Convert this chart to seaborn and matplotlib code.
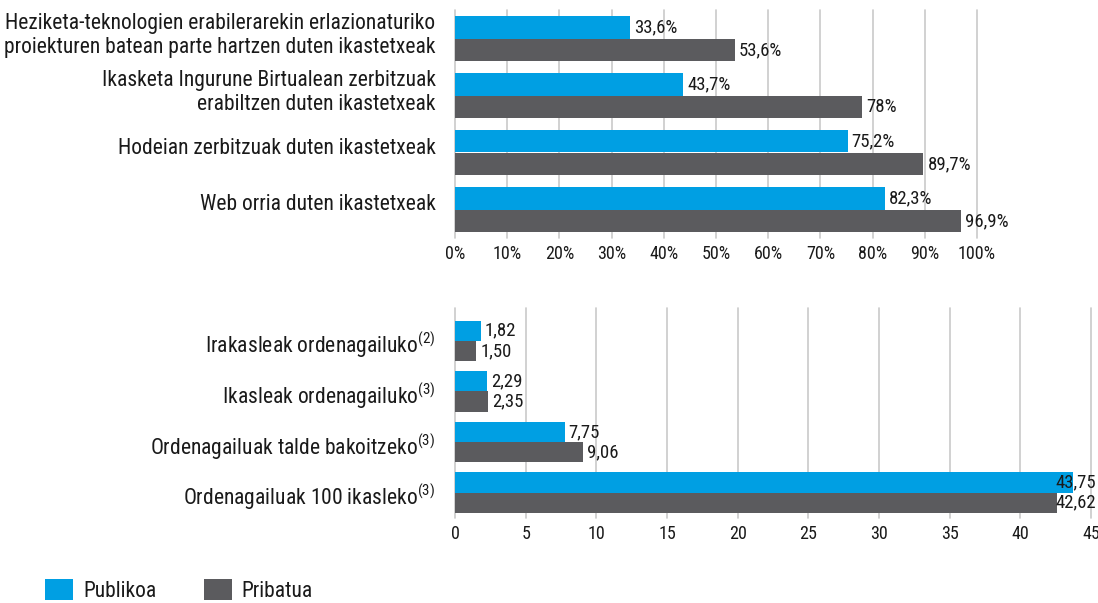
import pandas as pd
import matplotlib
matplotlib.use('Agg')
import matplotlib.pyplot as plt
import matplotlib.transforms as mtransforms
import seaborn as sns

# --- data ---
top_categories = [
    'Heziketa-teknologien erabilerarekin erlazionaturiko\nproiekturen batean parte hartzen duten ikastetxeak',
    'Ikasketa Ingurune Birtualean zerbitzuak\nerabiltzen duten ikastetxeak',
    'Hodeian zerbitzuak duten ikastetxeak',
    'Web orria duten ikastetxeak',
]
top_publikoa = [33.6, 43.7, 75.2, 82.3]
top_pribatua = [53.6, 78.0, 89.7, 96.9]
top_ticks = [0, 10, 20, 30, 40, 50, 60, 70, 80, 90, 100]

bottom_categories = [
    'Irakasleak ordenagailuko$^{(2)}$',
    'Ikasleak ordenagailuko$^{(3)}$',
    'Ordenagailuak talde bakoitzeko$^{(3)}$',
    'Ordenagailuak 100 ikasleko$^{(3)}$',
]
bottom_publikoa = [1.82, 2.29, 7.75, 43.75]
bottom_pribatua = [1.50, 2.35, 9.06, 42.62]
bottom_ticks = [0, 5, 10, 15, 20, 25, 30, 35, 40, 45]

series_names = ['Publikoa', 'Pribatua']
colors = ['#009fe3', '#5b5b5e']

# --- style ---
sns.set_theme(style='white')
FONT = 'Roboto Condensed'
plt.rcParams['font.family'] = [FONT, 'DejaVu Sans']
plt.rcParams['mathtext.fontset'] = 'custom'
plt.rcParams['mathtext.rm'] = FONT
plt.rcParams['mathtext.it'] = FONT
plt.rcParams['mathtext.bf'] = FONT
text_color = '#1a1a1a'
grid_color = '#c9c9c9'

W, H = 1098, 603
fig = plt.figure(figsize=(W / 100, H / 100), dpi=100)


def long_frame(categories, pub, pri):
    return pd.DataFrame({
        'category': categories * 2,
        'value': pub + pri,
        'series': [series_names[0]] * len(pub) + [series_names[1]] * len(pri),
    })


def draw_panel(ax, df, categories, ticks, xlim, ylim, tick_fmt, label_fmt, label_shift=0):
    sns.barplot(data=df, y='category', x='value', hue='series', order=categories,
                hue_order=series_names, palette=colors, orient='h', width=0.8,
                saturation=1, ax=ax, legend=True, linewidth=0)
    texts = []
    for cont in ax.containers:
        vals = [b.get_width() for b in cont]
        texts += ax.bar_label(cont, labels=[label_fmt(v) for v in vals], padding=3,
                              fontsize=13.5, color=text_color)
    ax.set_xlim(*xlim)
    ax.set_ylim(*ylim)
    ax.set_xticks(ticks)
    ax.set_xticklabels([tick_fmt(t) for t in ticks], fontsize=13, color=text_color)
    ax.tick_params(axis='y', labelsize=15.5, labelcolor=text_color, length=0, pad=14)
    ax.tick_params(axis='x', length=0, pad=5)
    ax.set_xlabel('')
    ax.set_ylabel('')
    ax.xaxis.grid(True, color=grid_color, linewidth=1.2)
    ax.set_axisbelow(True)
    for s in ax.spines.values():
        s.set_visible(False)
    for gl in ax.get_xgridlines():
        gl.set_clip_on(False)
    if label_shift:
        off = mtransforms.ScaledTranslation(0, label_shift / 100, fig.dpi_scale_trans)
        for lab in ax.get_yticklabels():
            lab.set_transform(lab.get_transform() + off)
    return texts


ax_top = fig.add_axes([455 / W, 1 - 238 / H, 522 / W, 228 / H])
t1 = draw_panel(ax_top, long_frame(top_categories, top_publikoa, top_pribatua),
                top_categories, top_ticks, (0, 100), (3.5, -0.5),
                lambda t: f'{t}%',
                lambda v: f'{v:g}'.replace('.', ',') + '%', label_shift=7)

ax_bot = fig.add_axes([455 / W, 1 - 518 / H, 636 / W, 210 / H])
t2 = draw_panel(ax_bot, long_frame(bottom_categories, bottom_publikoa, bottom_pribatua),
                bottom_categories, bottom_ticks, (0, 45), (3.5, -0.65),
                lambda t: f'{t}',
                lambda v: f'{v:.2f}'.replace('.', ','))

# keep value labels inside the figure
fig.canvas.draw()
renderer = fig.canvas.get_renderer()
for t in t1 + t2:
    ext = t.get_window_extent(renderer)
    over = ext.x1 - (W - 2)
    if over > 0:
        x, y = t.xyann
        t.xyann = (x - over * 72 / 100, y)

handles, labels = ax_top.get_legend_handles_labels()
ax_top.get_legend().remove()
ax_bot.get_legend().remove()
fig.legend(handles, labels, loc='lower left', bbox_to_anchor=(26 / W, -0.03),
           ncol=2, frameon=False, fontsize=15.5, handlelength=1.3, handleheight=1.1,
           handletextpad=0.45, columnspacing=2.2, labelcolor=text_color)

fig.savefig('out.png', dpi=100)
